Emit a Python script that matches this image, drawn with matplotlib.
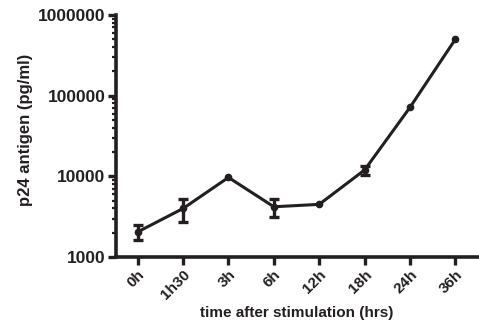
import matplotlib
import numpy as np

matplotlib.use("Agg")
import matplotlib.pyplot as plt
from matplotlib.ticker import LogLocator, NullFormatter, FixedLocator

# data
labels = ["0h", "1h30", "3h", "6h", "12h", "18h", "24h", "36h"]
p24 = [2050, 4000, 9700, 4200, 4500, 12000, 71500, 500000]
p24_err = [420, 1300, 0, 1050, 0, 1500, 0, 0]

ink = "#231f20"
plt.rcParams["font.family"] = ["Liberation Sans", "DejaVu Sans"]
plt.rcParams["font.weight"] = "bold"

fig = plt.figure(figsize=(4.79, 3.25), dpi=100)
ax = fig.add_axes([0.242, 0.209, 0.756, 0.745])

x = np.arange(len(labels))
ax.plot(x, p24, color=ink, lw=2.2, marker="o", ms=4.5)
# only points that have an error bar
has_err = [i for i in x if p24_err[i] > 0]
ax.errorbar([x[i] for i in has_err], [p24[i] for i in has_err],
            yerr=[p24_err[i] for i in has_err], fmt="none", ecolor=ink,
            capsize=3.8, capthick=2.4, elinewidth=2.4)

ax.set_yscale("log")
ax.set_ylim(1000, 1000000)
ax.set_xlim(-0.48, 7.5)
ax.yaxis.set_major_locator(FixedLocator([1e3, 1e4, 1e5, 1e6]))
ax.yaxis.set_minor_locator(LogLocator(base=10, subs=np.arange(2, 10)))
ax.yaxis.set_minor_formatter(NullFormatter())
ax.set_yticklabels(["1000", "10000", "100000", "1000000"])

ax.set_xticks(x)
ax.set_xticklabels(labels, rotation=45, ha="right", rotation_mode="anchor")

for s in ["top", "right"]:
    ax.spines[s].set_visible(False)
for s in ["left", "bottom"]:
    ax.spines[s].set_linewidth(2.6)
    ax.spines[s].set_color(ink)

ax.tick_params(axis="both", which="major", length=5.5, width=2.4, color=ink,
               labelsize=12.5, labelcolor=ink, pad=2)
ax.tick_params(axis="x", which="major", labelsize=11)
ax.tick_params(axis="y", which="minor", length=3, width=1.6, color=ink)

ax.set_ylabel("p24 antigen (pg/ml)", fontsize=12, fontweight="bold", color=ink)
ax.yaxis.set_label_coords(-0.23, 0.525)
ax.set_xlabel("time after stimulation (hrs)", fontsize=11, fontweight="bold",
              color=ink, labelpad=3)

fig.savefig("out.png", dpi=100)
